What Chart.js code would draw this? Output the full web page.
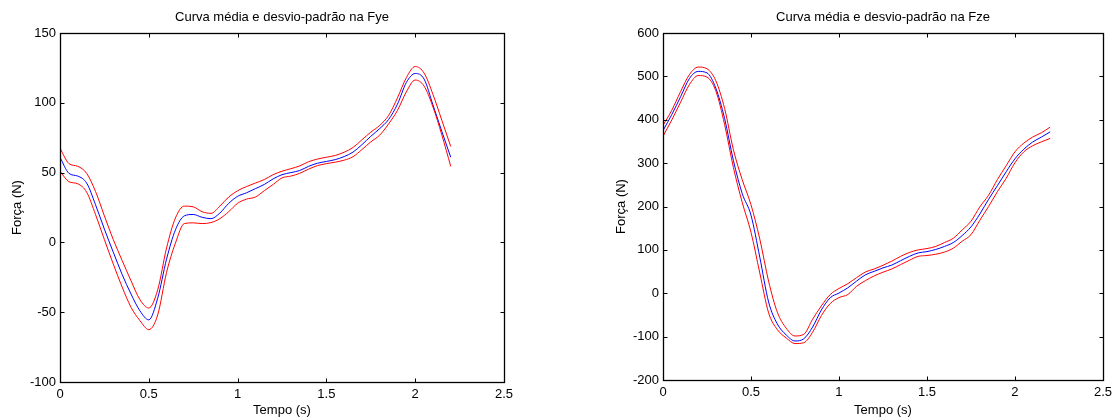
<!DOCTYPE html>
<html>
<head>
<meta charset="utf-8">
<title>Curva média e desvio-padrão</title>
<script src="https://cdn.jsdelivr.net/npm/chart.js@4.4.1/dist/chart.umd.min.js"></script>
<style>
  html, body { margin: 0; padding: 0; background: #fff; }
  #wrap { position: relative; width: 1117px; height: 420px; }
  #fye { position: absolute; left: 0; top: 0; }
  #fze { position: absolute; left: 558px; top: 0; }
</style>
</head>
<body>
<div id="wrap">
  <canvas id="fye" width="558" height="420"></canvas>
  <canvas id="fze" width="559" height="420"></canvas>
</div>
<script>
// time samples (s), every 0.05 s
const tempo = [0, 0.05, 0.1, 0.15, 0.2, 0.25, 0.3, 0.35, 0.4, 0.45, 0.5, 0.55, 0.6, 0.65, 0.7, 0.75, 0.8, 0.85, 0.9, 0.95,
  1, 1.05, 1.1, 1.15, 1.2, 1.25, 1.3, 1.35, 1.4, 1.45, 1.5, 1.55, 1.6, 1.65, 1.7, 1.75, 1.8, 1.85, 1.9, 1.95,
  2, 2.05, 2.1, 2.15, 2.2];

// Fye (N): mean, mean + sd, mean - sd
const fyeMedia = [61, 49.5, 47.5, 42.5, 27, 9.5, -7, -23, -37, -49, -55.5, -40, -12, 9, 19, 20, 18, 17, 21, 28,
  33, 35.5, 38.5, 41.5, 45.5, 48.5, 50, 51.5, 54.5, 56.7, 58, 59.3, 61.5, 64.7, 70, 76, 81.5, 88, 99, 114.5,
  121, 117, 98.5, 79.5, 61];
const fyeSup = [67.5, 56.5, 54.5, 49.5, 36.5, 19, 2, -13, -27.5, -41, -47, -34, -4, 17.5, 26, 25.5, 22, 20.8, 26, 32.5,
  37, 40, 42.5, 45, 48.5, 51, 52.8, 54.8, 57.8, 59.7, 61, 62.3, 64.6, 68, 73.5, 79, 83.8, 90.9, 103.5, 118,
  126, 121.3, 106, 87.5, 68.7];
const fyeInf = [51, 43.5, 42, 36, 20, 2, -15.5, -32, -46.5, -56, -62.5, -52, -21.5, -0.5, 13.5, 14, 13.5, 14.2, 17, 22,
  28, 31, 32.5, 37, 41.5, 46.2, 47.5, 49.5, 52.5, 55, 56.4, 57.5, 58.9, 61.4, 66.5, 72, 76.8, 84.8, 94.5, 107.8,
  116.3, 112, 97, 77, 54.5];

// Fze (N): mean, mean + sd, mean - sd
const fzeMedia = [375, 412, 453, 495, 511.5, 508, 473, 403, 306, 230, 180, 83, -20, -71, -96, -110, -105, -78, -38.6, -10.5,
  0.5, 12.5, 28, 42.5, 50.5, 58.5, 65, 75, 85, 93, 96, 101, 108, 117, 133, 153, 182.5, 216.5, 248, 280,
  310, 332, 348.5, 360, 372];
const fzeSup = [387, 422, 465, 504, 521.5, 517.5, 490, 426, 331, 262, 204, 125, 27.8, -44, -80.5, -98.5, -94.7, -60, -29, -3,
  11, 22, 36, 49, 56, 64.5, 74, 85, 94, 100, 103, 108, 117, 127, 146, 166, 199, 226, 262, 294,
  326, 346, 360, 370, 383];
const fzeInf = [362, 399.6, 440.6, 481, 501.9, 498.3, 466.7, 389.2, 290, 209.6, 140.7, 46.7, -45, -84, -103, -116, -114, -90, -51.4, -23.8,
  -10, -3, 16, 29, 40, 48.5, 56, 66, 76, 85, 87, 90, 95, 104, 120, 135, 168, 200, 234, 265,
  301, 326, 340, 349, 357];

// axis ticks
const tempoTicks = [0, 0.5, 1, 1.5, 2, 2.5];
const fyeTicks = [-100, -50, 0, 50, 100, 150];
const fzeTicks = [-200, -100, 0, 100, 200, 300, 400, 500, 600];

const FONT = "'Liberation Sans', Arial, sans-serif";

// box around the plot + inward tick marks on all four sides
const matlabBox = {
  id: 'matlabBox',
  afterDatasetsDraw(chart) {
    const { ctx, chartArea: a, scales: { x, y } } = chart;
    const L = Math.round(a.left) + 0.5, R = Math.round(a.right) + 0.5;
    const T = Math.round(a.top) + 0.5, B = Math.round(a.bottom) + 0.5;
    ctx.save();
    ctx.strokeStyle = '#000';
    ctx.lineWidth = 1;
    ctx.beginPath();
    x.ticks.forEach(t => {
      const px = Math.round(x.getPixelForValue(t.value)) + 0.5;
      ctx.moveTo(px, B); ctx.lineTo(px, B - 4);
      ctx.moveTo(px, T); ctx.lineTo(px, T + 4);
    });
    y.ticks.forEach(t => {
      const py = Math.round(y.getPixelForValue(t.value)) + 0.5;
      ctx.moveTo(L, py); ctx.lineTo(L + 4, py);
      ctx.moveTo(R, py); ctx.lineTo(R - 4, py);
    });
    ctx.stroke();
    ctx.lineWidth = 1.3;
    ctx.strokeRect(L, T, R - L, B - T);
    ctx.restore();
  }
};

function pts(vals) {
  return tempo.map((t, i) => ({ x: t, y: vals[i] }));
}

function makeChart(id, titulo, media, sup, inf, yTicks, lay) {
  const ds = (vals, color) => ({
    data: pts(vals),
    borderColor: color,
    borderWidth: 1,
    pointRadius: 0,
    fill: false,
    cubicInterpolationMode: 'monotone'
  });
  return new Chart(document.getElementById(id), {
    type: 'line',
    data: {
      datasets: [ds(sup, '#ff0000'), ds(inf, '#ff0000'), ds(media, '#0000ff')]
    },
    options: {
      responsive: false,
      animation: false,
      layout: { padding: { left: lay.padLeft, right: lay.padRight, top: 0, bottom: 0 } },
      plugins: {
        legend: { display: false },
        tooltip: { enabled: false },
        title: {
          display: true,
          text: titulo,
          fullSize: false,
          color: '#000',
          font: { family: FONT, size: 13, weight: 'normal' },
          padding: { top: 10, bottom: 7.4 }
        }
      },
      scales: {
        x: {
          type: 'linear',
          min: 0,
          max: 2.5,
          afterBuildTicks: s => { s.ticks = tempoTicks.map(v => ({ value: v })); },
          afterFit: s => { s.height = lay.xHeight; },
          grid: { display: false, drawTicks: false },
          border: { display: false },
          ticks: { color: '#000', padding: 5, maxRotation: 0, font: { family: FONT, size: 13 }, callback: v => String(v) },
          title: { display: true, text: 'Tempo (s)', color: '#000', font: { family: FONT, size: 13 }, padding: { top: 0, bottom: 2.2 } }
        },
        y: {
          min: yTicks[0],
          max: yTicks[yTicks.length - 1],
          afterBuildTicks: s => { s.ticks = yTicks.map(v => ({ value: v })); },
          afterFit: s => { s.width = lay.yWidth; },
          grid: { display: false, drawTicks: false },
          border: { display: false },
          ticks: { color: '#000', padding: 4, font: { family: FONT, size: 13 }, callback: v => String(v) },
          title: { display: true, text: 'Força (N)', color: '#000', font: { family: FONT, size: 13 }, padding: { top: 9.2, bottom: 0 } }
        }
      }
    },
    plugins: [matlabBox]
  });
}

makeChart('fye', 'Curva média e desvio-padrão na Fye', fyeMedia, fyeSup, fyeInf, fyeTicks,
  { padLeft: 0, padRight: 54, yWidth: 60, xHeight: 38 });
makeChart('fze', 'Curva média e desvio-padrão na Fze', fzeMedia, fzeSup, fzeInf, fzeTicks,
  { padLeft: 46, padRight: 13, yWidth: 59, xHeight: 40 });
</script>
</body>
</html>
